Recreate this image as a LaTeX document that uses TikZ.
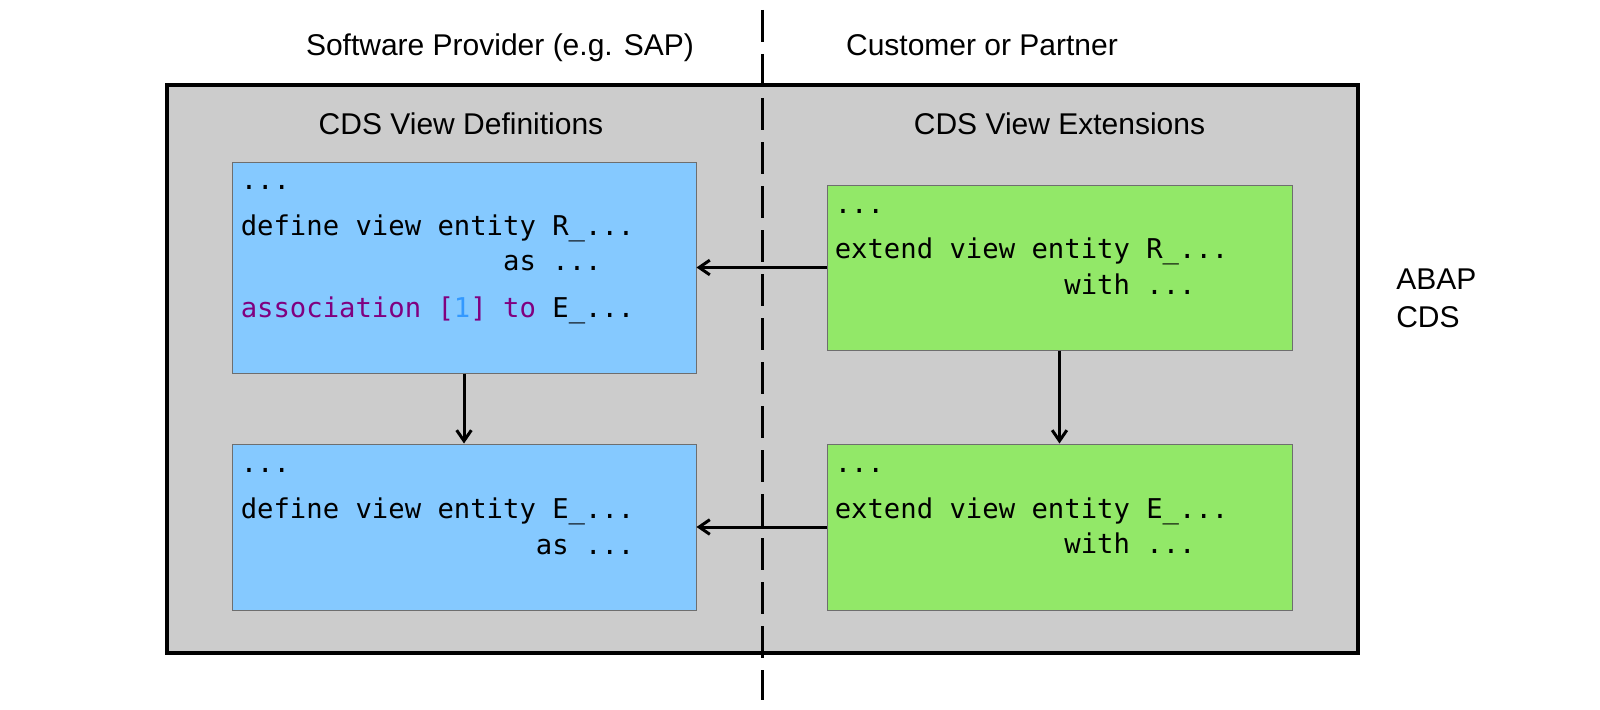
\documentclass[tikz,border=0pt]{standalone}
\usepackage{fontspec}
\setmainfont{Liberation Sans}
\newfontfamily\codefont{DejaVu Sans Mono}
\usetikzlibrary{arrows.meta}
\definecolor{boxgray}{RGB}{204,204,204}
\definecolor{defblue}{RGB}{133,201,255}
\definecolor{extgreen}{RGB}{146,232,104}
\definecolor{edgegray}{RGB}{110,110,110}
\definecolor{kwpurple}{RGB}{128,0,128}
\definecolor{numblue}{RGB}{51,153,255}
\tikzset{
  label/.style={inner sep=0pt, anchor=base, font=\fontsize{22.5}{27}\selectfont},
  codeline/.style={inner sep=0pt, anchor=base west, font=\codefont\fontsize{20.43}{24}\selectfont},
  outerbox/.style={draw=black, line width=3pt, fill=boxgray, minimum width=893.25pt, minimum height=426pt, inner sep=0pt},
  defbox/.style={draw=edgegray, line width=0.75pt, fill=defblue, minimum width=348pt, inner sep=0pt},
  extbox/.style={draw=edgegray, line width=0.75pt, fill=extgreen, minimum width=348.75pt, inner sep=0pt},
  conn/.style={line width=2.25pt, -{Straight Barb[length=8pt,width=11pt]}},
  divider/.style={line width=2.25pt, dash pattern=on 24pt off 9pt}
}
\begin{document}
\begin{tikzpicture}[x=0.75pt, y=-0.75pt]
\useasboundingbox (0,0) rectangle (1600,710);
% outer ABAP CDS frame
\node[outerbox] (outer) at (762.5,369) {};
% divider
\coordinate (dtop) at (762,10);
\coordinate (dbot) at (762,700);
\draw[divider] (dtop) -- (dbot);
% headings
\node[label] (provider) at (500,56) {Software Provider (e.g. SAP)};
\node[label] (customer) at (982,56) {Customer or Partner};
\node[label] (defs) at (461,134) {CDS View Definitions};
\node[label] (exts) at (1059.5,134) {CDS View Extensions};
\node[label, anchor=base west] (abap1) at (1396,289) {ABAP};
\node[label, anchor=base west] (abap2) at (1396,327) {CDS};
% boxes
\node[defbox, minimum height=158.25pt] (b1) at (464,267.5) {};
\node[defbox, minimum height=124.5pt] (b2) at (464,527) {};
\node[extbox, minimum height=123.75pt] (g1) at (1059.5,267.5) {};
\node[extbox, minimum height=124.5pt] (g2) at (1059.5,527) {};
% code box 1
\node[codeline] (b1l1) at (240.5,189) {...};
\node[codeline] (b1l2) at (240.5,235) {define view entity R\_...};
\node[codeline] (b1l3) at (502.9,270) {as ...};
\node[codeline] (b1l4) at (240.5,317) {\textcolor{kwpurple}{association [}\textcolor{numblue}{1}\textcolor{kwpurple}{] to} E\_...};
% code box 2
\node[codeline] (b2l1) at (240.5,472) {...};
\node[codeline] (b2l2) at (240.5,518) {define view entity E\_...};
\node[codeline] (b2l3) at (535.7,554) {as ...};
% ext box 1
\node[codeline] (g1l1) at (834.5,213) {...};
\node[codeline] (g1l2) at (834.5,258) {extend view entity R\_...};
\node[codeline] (g1l3) at (1064.1,294) {with ...};
% ext box 2
\node[codeline] (g2l1) at (834.5,472) {...};
\node[codeline] (g2l2) at (834.5,518) {extend view entity E\_...};
\node[codeline] (g2l3) at (1064.1,553) {with ...};
% connectors
\draw[conn] (g1.west) -- (b1.east);
\draw[conn] (g2.west) -- (b2.east);
\draw[conn] (b1.south) -- (b2.north);
\draw[conn] (g1.south) -- (g2.north);
\end{tikzpicture}
\end{document}
